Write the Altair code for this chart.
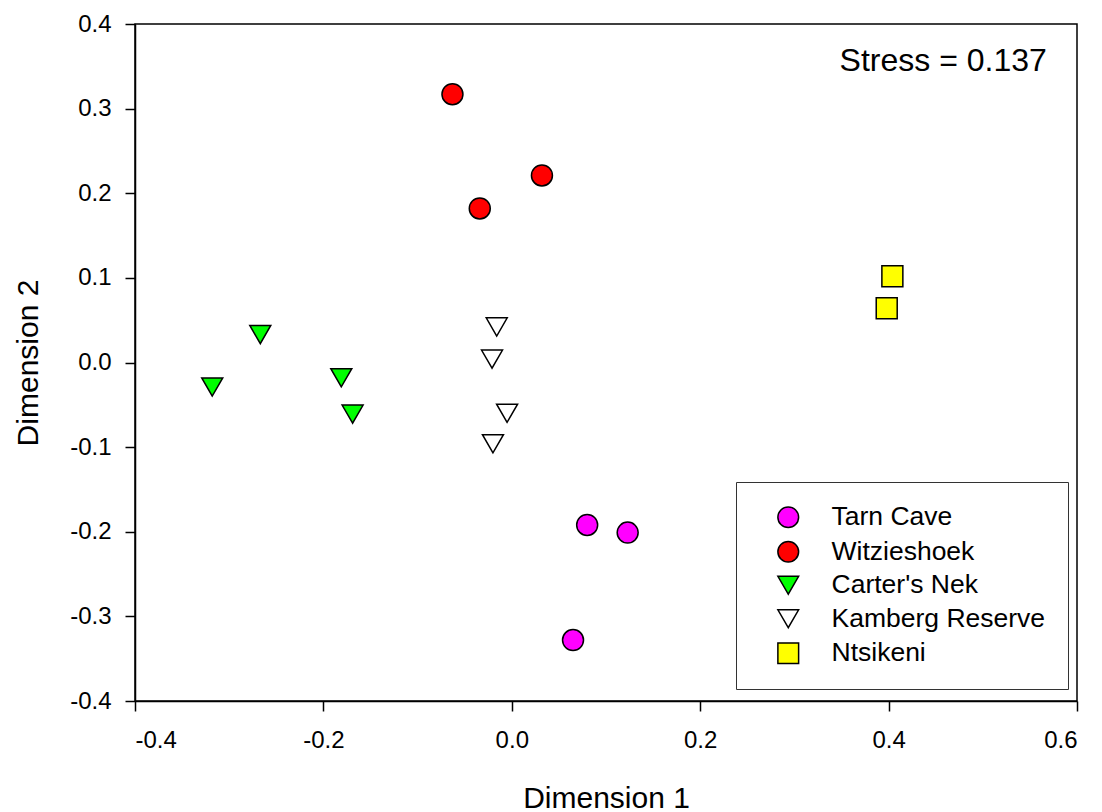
import altair as alt
import pandas as pd

sites = ["Tarn Cave", "Witzieshoek", "Carter's Nek", "Kamberg Reserve", "Ntsikeni"]
fills = ["#ff00ff", "#ff0000", "#00ff00", "#ffffff", "#ffff00"]
shapes = ["circle", "circle", "triangle-down", "triangle-down", "square"]
strokes = ["#000000", "#000000", "#000000", "#000000", "#000000"]

tarn_x = [0.080, 0.123, 0.065]
tarn_y = [-0.192, -0.201, -0.328]
witz_x = [-0.063, 0.032, -0.034]
witz_y = [0.317, 0.221, 0.182]
carter_x = [-0.267, -0.318, -0.181, -0.169]
carter_y = [0.033, -0.029, -0.018, -0.061]
kamberg_x = [-0.016, -0.021, -0.005, -0.020]
kamberg_y = [0.042, 0.004, -0.060, -0.096]
ntsikeni_x = [0.404, 0.398]
ntsikeni_y = [0.102, 0.064]

groups = [(tarn_x, tarn_y), (witz_x, witz_y), (carter_x, carter_y),
          (kamberg_x, kamberg_y), (ntsikeni_x, ntsikeni_y)]
rows = []
for s, (xs, ys) in zip(sites, groups):
    for x, y in zip(xs, ys):
        rows.append({"site": s, "d1": x, "d2": y})
df = pd.DataFrame(rows)

x_ticks = [-0.4, -0.2, 0.0, 0.2, 0.4, 0.6]
y_ticks = [-0.4, -0.3, -0.2, -0.1, 0.0, 0.1, 0.2, 0.3, 0.4]

label_expr = "(datum.value < -1e-9 ? '-' : '') + format(abs(datum.value), '.1f')"
FONT = "Liberation Sans"

xenc = alt.X("d1:Q", scale=alt.Scale(domain=[-0.4, 0.6], nice=False, zero=False),
             axis=alt.Axis(values=x_ticks, title="Dimension 1", labelExpr=label_expr,
                           titleY=106, titleBaseline="alphabetic"))
yenc = alt.Y("d2:Q", scale=alt.Scale(domain=[-0.4, 0.4], nice=False, zero=False),
             axis=alt.Axis(values=y_ticks, title="Dimension 2", labelExpr=label_expr,
                           titleX=-98, titleBaseline="alphabetic"))

leg = dict(title=None, orient="none", legendX=601, legendY=458,
           symbolStrokeColor="black", symbolStrokeWidth=1.5, symbolOpacity=1,
           labelLimit=400)

points = alt.Chart(df).mark_point(filled=True, strokeWidth=1.5, size=440,
                                  opacity=1).encode(
    x=xenc,
    y=yenc,
    fill=alt.Fill("site:N", scale=alt.Scale(domain=sites, range=fills),
                  legend=alt.Legend(**leg)),
    shape=alt.Shape("site:N", scale=alt.Scale(domain=sites, range=shapes),
                    legend=alt.Legend(**leg)),
    stroke=alt.Stroke("site:N", scale=alt.Scale(domain=sites, range=strokes),
                      legend=alt.Legend(**leg)),
)

stress_df = pd.DataFrame({"d1": [0.568], "d2": [0.344], "label": ["Stress = 0.137"]})
stress = alt.Chart(stress_df).mark_text(align="right", baseline="alphabetic", fontSize=32,
                                        font=FONT, color="black").encode(
    x="d1:Q", y="d2:Q", text="label:N")

chart = alt.layer(points, stress).properties(
    width=942, height=677,
    padding={"left": 135, "top": 24, "right": 25, "bottom": 111},
    autosize=alt.AutoSizeParams(type="none"),
    background="white",
).configure_view(stroke="black", strokeWidth=1.5).configure_axis(
    grid=False, domainColor="black", domainWidth=1.5, tickColor="black", tickWidth=1.5,
    tickSize=10, labelFontSize=24, labelFont=FONT, labelColor="black",
    titleFontSize=30, titleFont=FONT, titleColor="black", titleFontWeight="normal",
).configure_axisX(labelPadding=17).configure_axisY(labelPadding=14).configure_legend(
    padding=22, symbolOffset=17, labelOffset=30, rowPadding=6.5, symbolSize=430,
    labelFontSize=26.5, labelFont=FONT, labelColor="black",
    strokeColor="#333333", fillColor="white",
)

chart.save("out.html", embed_options={"renderer": "svg", "actions": False})
